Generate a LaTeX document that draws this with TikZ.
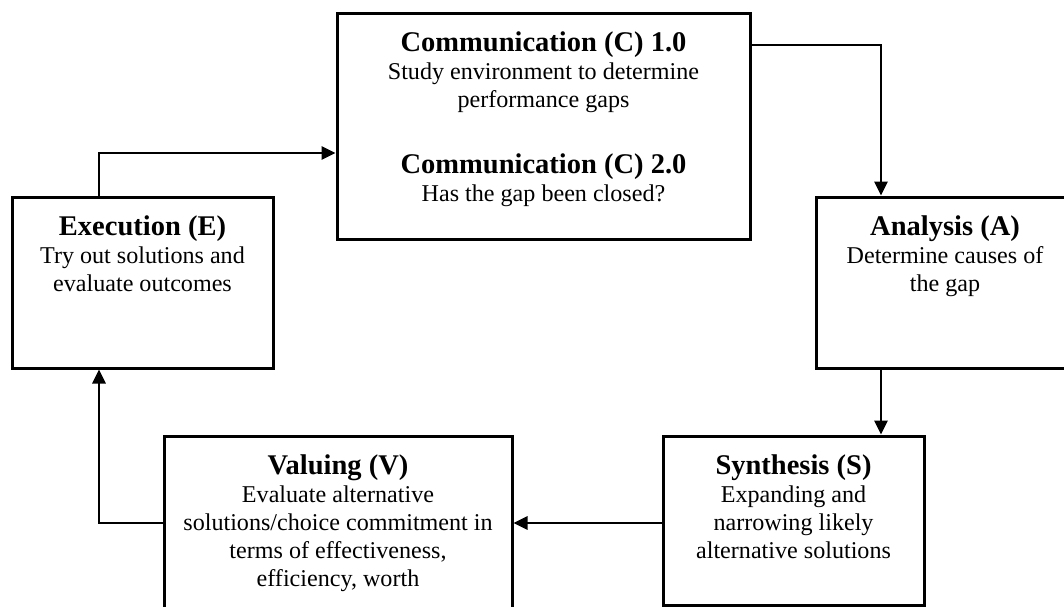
\documentclass[tikz,border=0pt]{standalone}
\usepackage{fontspec}
\setmainfont{Liberation Serif}
\usetikzlibrary{arrows.meta}
\begin{document}
\begin{tikzpicture}[x=1pt,y=-1pt,
  box/.style={draw, line width=3pt, rectangle, inner sep=0pt, outer sep=0pt},
  ttl/.style={font=\fontsize{28.5}{32}\selectfont\bfseries, inner sep=0pt, anchor=base},
  body/.style={font=\fontsize{24.1}{28}\selectfont, align=center, inner sep=0pt, anchor=north},
  link/.style={line width=2.8pt, shorten >=1.5pt, -{Triangle[length=14pt,width=13pt]}}]
\useasboundingbox (0,0) rectangle (1064,606);
\clip (0,0) rectangle (1064,606);

% stage boxes
\node[box, minimum width=413pt, minimum height=226pt] (comm)  at (543.5,126)   {};
\node[box, minimum width=261pt, minimum height=171pt] (exec)  at (142.5,282.5) {};
\node[box, minimum width=258pt, minimum height=171pt] (anal)  at (945,282.5)   {};
\node[box, minimum width=261pt, minimum height=169pt] (synth) at (793.5,520.5) {};
\node[box, minimum width=348pt, minimum height=190pt] (val)   at (338,531)     {};

% box texts
\node[ttl]  (comm-t1) at ([yshift=-38pt]comm.north)    {Communication (C) 1.0};
\node[body] (comm-b1) at ([yshift=-46.4pt]comm.north)  {\strut Study environment to determine\\performance gaps};
\node[ttl]  (comm-t2) at ([yshift=-160pt]comm.north)   {Communication (C) 2.0};
\node[body] (comm-b2) at ([yshift=-168.4pt]comm.north) {\strut Has the gap been closed?};

\node[ttl]  (exec-t) at ([yshift=-38pt]exec.north)   {Execution (E)};
\node[body] (exec-b) at ([yshift=-46.4pt]exec.north) {\strut Try out solutions and\\evaluate outcomes};

\node[ttl]  (anal-t) at ([yshift=-38pt]anal.north)   {Analysis (A)};
\node[body] (anal-b) at ([yshift=-46.4pt]anal.north) {\strut Determine causes of\\the gap};

\node[ttl]  (synth-t) at ([yshift=-38pt]synth.north)   {Synthesis (S)};
\node[body] (synth-b) at ([yshift=-46.4pt]synth.north) {\strut Expanding and\\narrowing likely\\alternative solutions};

\node[ttl]  (val-t) at ([yshift=-38pt]val.north)   {Valuing (V)};
\node[body] (val-b) at ([yshift=-46.4pt]val.north) {\strut Evaluate alternative\\solutions/choice commitment in\\terms of effectiveness,\\efficiency, worth};

% cycle connectors
\draw[link] ([xshift=-43.5pt]exec.north) |- ([yshift=-27pt]comm.west);
\draw[link] ([yshift=81pt]comm.east) -| ([xshift=-64pt]anal.north);
\draw[link] ([xshift=-64pt]anal.south) -- ([xshift=87.5pt]synth.north);
\coordinate (sv) at ([yshift=-2.5pt]synth.west);
\draw[link] (sv) -- (sv -| val.east);
\draw[link] (sv -| val.west) -| ([xshift=-43.5pt]exec.south);
\end{tikzpicture}
\end{document}
